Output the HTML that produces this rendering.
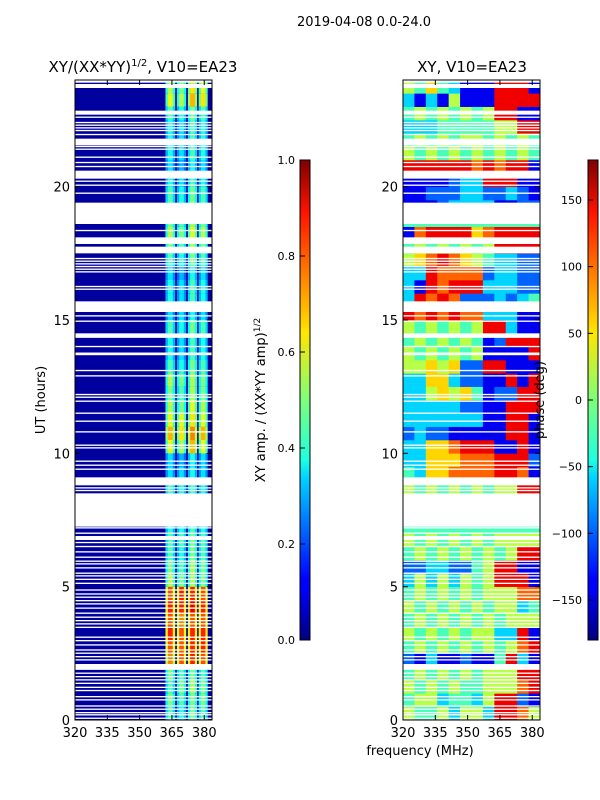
<!DOCTYPE html>
<html><head><meta charset="utf-8">
<style>
html,body{margin:0;padding:0;background:#fff;}
svg{display:block;font-family:"DejaVu Sans","Liberation Sans",sans-serif;}
</style></head>
<body>
<svg id="fig" width="600" height="800" viewBox="0 0 600 800" xmlns="http://www.w3.org/2000/svg">
<rect width="600" height="800" fill="#fff"/>
<text x="364" y="26" font-size="13" text-anchor="middle">2019-04-08 0.0-24.0</text>
<text x="143" y="72" font-size="15" text-anchor="middle">XY/(XX*YY)<tspan font-size="10" dy="-6">1/2</tspan><tspan dy="6">, V10=EA23</tspan></text>
<text x="472" y="72" font-size="15" text-anchor="middle">XY, V10=EA23</text>
<g id="ampPanel"></g>
<g id="phPanel"></g>
<g id="axes"></g>
<defs>
<linearGradient id="jet" x1="0" y1="1" x2="0" y2="0">
<stop offset="0" stop-color="#00007f"/><stop offset="0.11" stop-color="#0000ff"/><stop offset="0.125" stop-color="#0000ff"/>
<stop offset="0.34" stop-color="#00d4ff"/><stop offset="0.375" stop-color="#1fffe0"/><stop offset="0.5" stop-color="#7dff7a"/>
<stop offset="0.64" stop-color="#ffe600"/><stop offset="0.66" stop-color="#ffd400"/><stop offset="0.89" stop-color="#ff1300"/><stop offset="1" stop-color="#7f0000"/>
</linearGradient>
</defs>
<rect x="300" y="160" width="10" height="480" fill="url(#jet)" stroke="#000" stroke-width="1"/>
<rect x="588" y="160" width="10" height="480" fill="url(#jet)" stroke="#000" stroke-width="1"/>
<g id="cb"></g>
<text transform="translate(265,400) rotate(-90)" font-size="13" text-anchor="middle">XY amp. / (XX*YY amp)<tspan font-size="9" dy="-5">1/2</tspan></text>
<text transform="translate(544,400) rotate(-90)" font-size="13" text-anchor="middle">phase (deg)</text>
<text transform="translate(45,400) rotate(-90)" font-size="13" text-anchor="middle">UT (hours)</text>
<text x="420" y="755" font-size="13" text-anchor="middle">frequency (MHz)</text>
</svg>
<script>
// ---- data ----
const xTicks = [320, 335, 350, 365, 380];
const yTicks = [0, 5, 10, 15, 20];
const ampTicks = [0.0, 0.2, 0.4, 0.6, 0.8, 1.0];
const phaseTicks = [-150, -100, -50, 0, 50, 100, 150];
// amplitude per half-hour block (0h..24h) for the four active sub-bands
const ampBand1 = [0.45,0.5,0.45,0.5,0.75,0.8,0.85,0.8,0.85,0.8,0.55,0.5,0.45,0.45,0.4,0.4,0.4,0.45,0.35,0.35,0.6,0.7,0.6,0.55,0.5,0.55,0.45,0.4,0.4,0.45,0.35,0.4,0.4,0.35,0.45,0.5,0.55,0.5,0.45,0.45,0.4,0.35,0.4,0.4,0.4,0.45,0.6,0.55];
const ampBand2 = [0.4,0.45,0.5,0.45,0.8,0.8,0.8,0.75,0.85,0.85,0.5,0.45,0.4,0.45,0.4,0.4,0.4,0.4,0.35,0.3,0.55,0.65,0.6,0.5,0.45,0.5,0.4,0.35,0.35,0.4,0.35,0.35,0.35,0.3,0.4,0.45,0.5,0.45,0.4,0.4,0.35,0.3,0.35,0.35,0.35,0.4,0.55,0.5];
const ampBand3 = [0.5,0.5,0.55,0.5,0.85,0.85,0.85,0.8,0.9,0.85,0.55,0.55,0.5,0.5,0.45,0.4,0.4,0.45,0.4,0.4,0.7,0.75,0.65,0.6,0.55,0.55,0.5,0.45,0.45,0.5,0.4,0.45,0.45,0.4,0.5,0.55,0.6,0.55,0.5,0.5,0.45,0.4,0.45,0.45,0.45,0.5,0.7,0.65];
const ampBand4 = [0.45,0.5,0.5,0.45,0.8,0.85,0.85,0.8,0.85,0.8,0.5,0.5,0.45,0.45,0.4,0.4,0.4,0.4,0.35,0.35,0.6,0.7,0.6,0.55,0.5,0.5,0.45,0.4,0.4,0.45,0.35,0.4,0.4,0.35,0.45,0.5,0.55,0.5,0.45,0.45,0.4,0.35,0.4,0.4,0.4,0.45,0.65,0.6];
const ampBackground = 0.03;
// phase per half-hour block, 12 frequency columns, digit d -> -180 + 40*d deg
const phaseBlocks = ["544535538875","455344358821","545454455578","454545455588","213112114831","454545454578","545454553381","454545454555","545454545534","454545455577","353535458881","223322458811","454545454588","545454545555","444444444444","444444444444","444444444444","545454545588","436677778871","336667778882","336678881181","232211111881","333333311881","333332211888","335656412288","336632211818","556562288111","545454511118","454545412888","545454588311","878787733311","387872223234","318788833322","338777723322","567876543322","454545458888","178888678888","444444444444","111233331122","112223322321","111123388811","888888787881","545454545454","454545545454","333444445588","454545458811","313151118888","546431118881"];
// time gaps with no data [startHour, endHour]
const gaps = [[0.04,0.09],[0.17,0.22],[0.25,0.3],[0.38,0.43],[0.5,0.55],[0.73,0.78],[0.85,0.9],[1.08,1.13],[1.2,1.25],[1.35,1.4],[1.48,1.53],[1.6,1.65],[1.73,1.78],[1.88,2.1],[2.23,2.28],[2.35,2.4],[2.48,2.53],[2.6,2.65],[2.79,2.84],[2.95,3.0],[3.08,3.13],[3.45,3.5],[3.58,3.63],[3.7,3.75],[3.83,3.88],[3.98,4.03],[4.17,4.22],[4.33,4.38],[4.45,4.5],[4.58,4.63],[4.7,4.75],[4.85,4.9],[5.1,5.15],[5.25,5.3],[5.38,5.43],[5.48,5.53],[5.68,5.73],[5.83,5.88],[5.93,5.98],[6.08,6.13],[6.28,6.33],[6.48,6.53],[6.63,6.68],[6.75,6.9],[6.98,7.03],[7.18,7.23],[7.25,8.5],[8.58,8.63],[8.68,8.73],[8.8,9.1],[9.38,9.43],[9.53,9.58],[9.68,9.73],[10.18,10.23],[10.28,10.33],[10.78,10.83],[11.18,11.23],[11.48,11.53],[11.93,11.98],[12.08,12.13],[12.18,12.23],[12.88,12.93],[13.08,13.13],[13.68,13.78],[13.98,14.03],[14.33,14.5],[14.93,14.98],[15.13,15.18],[15.3,15.7],[16.13,16.18],[16.23,16.28],[16.78,16.83],[16.88,16.93],[16.98,17.03],[17.08,17.13],[17.18,17.23],[17.28,17.33],[17.5,17.75],[17.85,18.1],[18.33,18.38],[18.6,19.4],[19.73,19.78],[20.03,20.08],[20.18,20.23],[20.3,20.6],[20.73,20.78],[20.88,20.93],[21.08,21.13],[21.38,21.43],[21.48,21.53],[21.55,21.8],[21.93,21.98],[22.08,22.13],[22.18,22.23],[22.28,22.33],[22.38,22.43],[22.58,22.63],[22.7,22.85],[23.7,23.85],[23.9,24.0]];

// ---- helpers ----
const NS = "http://www.w3.org/2000/svg";
const Y0 = 720, Y1 = 80, F0 = 320, F1 = 383.6;
const yScale = h => Y0 + (Y1 - Y0) * h / 24;
function xAmp(f){ return 75 + (212 - 75) * (f - F0) / (F1 - F0); }
function xPh(f){ return 403 + (540 - 403) * (f - F0) / (F1 - F0); }
function jet(v){
  v = Math.max(0, Math.min(1, v));
  const c = x => Math.round(255 * Math.max(0, Math.min(1, x)));
  const r = c(1.5 - Math.abs(4 * v - 3));
  const g = c(1.5 - Math.abs(4 * v - 2));
  const b = c(1.5 - Math.abs(4 * v - 1));
  return `rgb(${r},${g},${b})`;
}
function mk(tag, attrs, parent){
  const e = document.createElementNS(NS, tag);
  for (const k in attrs) e.setAttribute(k, attrs[k]);
  parent.appendChild(e);
  return e;
}

// ---- amplitude panel ----
const ampG = document.getElementById("ampPanel");
const bandEdges = [[362,366.5],[367.3,371.6],[372.4,376.7],[377.4,381.6]];
const bands = [ampBand1, ampBand2, ampBand3, ampBand4];
const bg = mk("rect", {x: xAmp(F0), y: Y1, width: xAmp(F1) - xAmp(F0), height: Y0 - Y1, fill: jet(ampBackground)}, ampG);


for (let i = 0; i < 48; i++) {
  const ya = yScale((i + 1) / 2), yb = yScale(i / 2);
  bands.forEach((arr, bi) => {
    const [f0, f1] = bandEdges[bi];
    const w = xAmp(f1) - xAmp(f0);
    const r1 = mk("rect", {x: xAmp(f0), y: ya, width: w, height: yb - ya, fill: jet(arr[i] * 0.75)}, ampG);
    
    
    const r2 = mk("rect", {x: xAmp(f0) + w * 0.25, y: ya, width: w * 0.5, height: yb - ya, fill: jet(arr[i])}, ampG);
    
    
  });
}

// ---- phase panel ----
const phG = document.getElementById("phPanel");
const nCol = 12, colW = (F1 - F0) / nCol;
phaseBlocks.forEach((s, i) => {
  const ya = yScale((i + 1) / 2), yb = yScale(i / 2);
  for (let c = 0; c < nCol; c++) {
    const deg = -180 + 40 * Number(s[c]);
    const r = mk("rect", {x: xPh(F0 + c * colW), y: ya, width: xPh(F0 + (c + 1) * colW) - xPh(F0 + c * colW) + 0.3, height: yb - ya + 0.3, fill: jet((deg + 180) / 360)}, phG);
    
    
  }
});

// ---- gaps (white) on both panels ----
gaps.forEach(g => {
  const ya = yScale(g[1]), yb = yScale(g[0]);
  const a = mk("rect", {x: 75, y: ya, width: 137, height: Math.max(1, yb - ya), fill: "#fff"}, ampG);
  
  
  const p = mk("rect", {x: 403, y: ya, width: 137, height: Math.max(1, yb - ya), fill: "#fff"}, phG);
  
  
});

// ---- axes ----
const ax = document.getElementById("axes");
[[75, xAmp, 'amp'], [403, xPh, 'phase']].forEach(([x0, xs, nm]) => {
  const fr = mk("rect", {x: x0, y: Y1, width: 137, height: Y0 - Y1, fill: "none", stroke: "#000", "stroke-width": 1}, ax);
  
  
  xTicks.forEach(t => {
    const x = xs(t);
    mk("line", {x1: x, x2: x, y1: Y0, y2: Y0 - 5, stroke: "#000"}, ax);
    mk("line", {x1: x, x2: x, y1: Y1, y2: Y1 + 5, stroke: "#000"}, ax);
    const tx = mk("text", {x: x, y: Y0 + 17, "font-size": 13, "text-anchor": "middle"}, ax);
    tx.textContent = t;
    
    
  });
  yTicks.forEach(t => {
    const y = yScale(t);
    mk("line", {x1: x0, x2: x0 + 5, y1: y, y2: y, stroke: "#000"}, ax);
    mk("line", {x1: x0 + 137, x2: x0 + 132, y1: y, y2: y, stroke: "#000"}, ax);
    const tx = mk("text", {x: x0 - 5, y: y + 5, "font-size": 13, "text-anchor": "end"}, ax);
    tx.textContent = t;
    
    
  });
});

// ---- colorbar ticks ----
const cb = document.getElementById("cb");
ampTicks.forEach(t => {
  const y = 640 - 480 * t;
  mk("line", {x1: 300, x2: 305, y1: y, y2: y, stroke: "#000"}, cb);
  const tx = mk("text", {x: 295, y: y + 4, "font-size": 11, "text-anchor": "end"}, cb);
  tx.textContent = t.toFixed(1);
  
  
});
phaseTicks.forEach(t => {
  const y = 640 - 480 * (t + 180) / 360;
  mk("line", {x1: 588, x2: 593, y1: y, y2: y, stroke: "#000"}, cb);
  const tx = mk("text", {x: 582, y: y + 4, "font-size": 11, "text-anchor": "end"}, cb);
  tx.textContent = t < 0 ? "\u2212" + Math.abs(t) : String(t);
  
  
});
</script>
</body></html>
